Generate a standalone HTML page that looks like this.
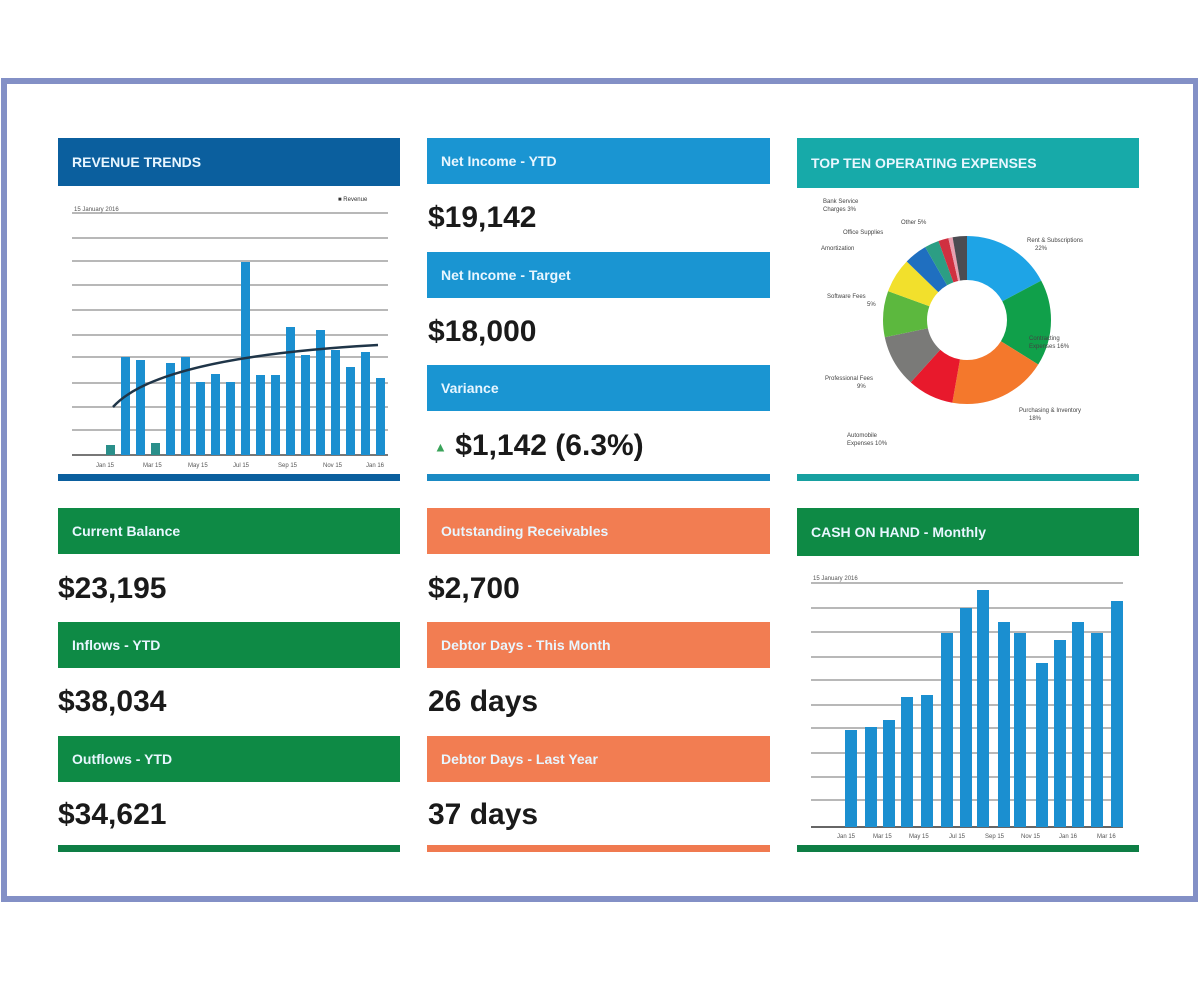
<!DOCTYPE html>
<html><head><meta charset="utf-8"><style>
*{margin:0;padding:0;box-sizing:border-box}
body{width:1200px;height:981px;background:#fff;position:relative;overflow:hidden;font-family:"Liberation Sans",sans-serif}
.frame{position:absolute;left:1px;top:78px;width:1197px;height:824px;border:6px solid #8390c6;border-right-width:5px}
.h{position:absolute;height:46px;color:#e8f6ff;font-weight:bold;font-size:14px;line-height:46px;padding-left:14px}
.v{position:absolute;font-weight:bold;font-size:30px;color:#1a1a1a}
.bar{position:absolute;height:7px}
</style></head><body>
<div class="frame"></div>

<div class="h" style="left:58px;top:138px;width:342px;height:48px;background:#0b5f9e;line-height:48px">REVENUE TRENDS</div>
<svg style="position:absolute;left:58px;top:195px" width="342" height="290">
<g stroke="#b8b8b8" stroke-width="2">
<line x1="14" x2="330" y1="18" y2="18"/><line x1="14" x2="330" y1="43" y2="43"/><line x1="14" x2="330" y1="66" y2="66"/><line x1="14" x2="330" y1="90" y2="90"/><line x1="14" x2="330" y1="115" y2="115"/><line x1="14" x2="330" y1="140" y2="140"/><line x1="14" x2="330" y1="162" y2="162"/><line x1="14" x2="330" y1="188" y2="188"/><line x1="14" x2="330" y1="212" y2="212"/><line x1="14" x2="330" y1="235" y2="235"/><line x1="14" x2="330" y1="260" y2="260" stroke="#777"/>
</g>
<text x="16" y="16" font-size="6" fill="#555">15 January 2016</text>
<text x="280" y="6" font-size="6" fill="#333">■ Revenue</text>
<g fill="#1b8fd0">
<rect x="48" y="250" width="9" height="10" fill="#2a8f8a"/>
<rect x="63" y="162" width="9" height="98"/>
<rect x="78" y="165" width="9" height="95"/>
<rect x="93" y="248" width="9" height="12" fill="#2a8f8a"/>
<rect x="108" y="168" width="9" height="92"/>
<rect x="123" y="162" width="9" height="98"/>
<rect x="138" y="187" width="9" height="73"/>
<rect x="153" y="179" width="9" height="81"/>
<rect x="168" y="187" width="9" height="73"/>
<rect x="183" y="67" width="9" height="193"/>
<rect x="198" y="180" width="9" height="80"/>
<rect x="213" y="180" width="9" height="80"/>
<rect x="228" y="132" width="9" height="128"/>
<rect x="243" y="160" width="9" height="100"/>
<rect x="258" y="135" width="9" height="125"/>
<rect x="273" y="155" width="9" height="105"/>
<rect x="288" y="172" width="9" height="88"/>
<rect x="303" y="157" width="9" height="103"/>
<rect x="318" y="183" width="9" height="77"/>
</g>
<path d="M55 212 Q100 162 320 150" fill="none" stroke="#1f3548" stroke-width="2.5"/>
<g font-size="6" fill="#555"><text x="38" y="272">Jan 15</text><text x="85" y="272">Mar 15</text><text x="130" y="272">May 15</text><text x="175" y="272">Jul 15</text><text x="220" y="272">Sep 15</text><text x="265" y="272">Nov 15</text><text x="308" y="272">Jan 16</text></g>
</svg>
<div class="bar" style="left:58px;top:474px;width:342px;background:#0b5f9e"></div>

<div class="h" style="left:427px;top:138px;width:343px;background:#1a95d2">Net Income - YTD</div>
<div class="v" style="left:428px;top:201px">$19,142</div>
<div class="h" style="left:427px;top:252px;width:343px;background:#1a95d2">Net Income - Target</div>
<div class="v" style="left:428px;top:315px">$18,000</div>
<div class="h" style="left:427px;top:365px;width:343px;background:#1a95d2">Variance</div>
<div class="v" style="left:434px;top:429px"><span style="color:#3aa35a;font-size:13px;vertical-align:middle">▲</span> $1,142 (6.3%)</div>
<div class="bar" style="left:427px;top:474px;width:343px;background:#1a8ac4"></div>

<div class="h" style="left:797px;top:138px;width:342px;height:50px;line-height:50px;background:#17aaa9">TOP TEN OPERATING EXPENSES</div>
<svg style="position:absolute;left:797px;top:190px" width="342" height="280">
<g transform="translate(170,130) rotate(-90)" fill="none" stroke-width="44">
<circle r="62" stroke="#1ea4e6" stroke-dasharray="67.1 400" stroke-dashoffset="0"/>
<circle r="62" stroke="#10a04a" stroke-dasharray="64.9 400" stroke-dashoffset="-67.1"/>
<circle r="62" stroke="#f4782c" stroke-dasharray="73.6 400" stroke-dashoffset="-132"/>
<circle r="62" stroke="#e8192c" stroke-dasharray="34.6 400" stroke-dashoffset="-205.6"/>
<circle r="62" stroke="#7a7a78" stroke-dasharray="39 400" stroke-dashoffset="-240.2"/>
<circle r="62" stroke="#5cb83e" stroke-dasharray="34.6 400" stroke-dashoffset="-279.2"/>
<circle r="62" stroke="#f2e02c" stroke-dasharray="26 400" stroke-dashoffset="-313.8"/>
<circle r="62" stroke="#1f6fc0" stroke-dasharray="17.3 400" stroke-dashoffset="-339.8"/>
<circle r="62" stroke="#2c9e84" stroke-dasharray="10.8 400" stroke-dashoffset="-357.1"/>
<circle r="62" stroke="#d03040" stroke-dasharray="7.6 400" stroke-dashoffset="-367.9"/>
<circle r="62" stroke="#e8a0b0" stroke-dasharray="3.2 400" stroke-dashoffset="-375.5"/>
<circle r="62" stroke="#4c4c52" stroke-dasharray="10.8 400" stroke-dashoffset="-378.7"/>
</g>
<g font-size="6" fill="#444">
<text x="230" y="52">Rent &amp; Subscriptions</text><text x="238" y="60">22%</text>
<text x="232" y="150">Contracting</text><text x="232" y="158">Expenses 16%</text>
<text x="222" y="222">Purchasing &amp; Inventory</text><text x="232" y="230">18%</text>
<text x="28" y="190">Professional Fees</text><text x="60" y="198">9%</text>
<text x="50" y="247">Automobile</text><text x="50" y="255">Expenses 10%</text>
<text x="30" y="108">Software Fees</text><text x="70" y="116">5%</text>
<text x="26" y="13">Bank Service</text><text x="26" y="21">Charges 3%</text>
<text x="104" y="34">Other 5%</text>
<text x="46" y="44">Office Supplies</text><text x="24" y="60">Amortization</text>
</g>
</svg>
<div class="bar" style="left:797px;top:474px;width:342px;background:#17a0a0"></div>

<div class="h" style="left:58px;top:508px;width:342px;background:#0e8a45">Current Balance</div>
<div class="v" style="left:58px;top:572px">$23,195</div>
<div class="h" style="left:58px;top:622px;width:342px;background:#0e8a45">Inflows - YTD</div>
<div class="v" style="left:58px;top:685px">$38,034</div>
<div class="h" style="left:58px;top:736px;width:342px;background:#0e8a45">Outflows - YTD</div>
<div class="v" style="left:58px;top:798px">$34,621</div>
<div class="bar" style="left:58px;top:845px;width:342px;background:#0e7e45"></div>

<div class="h" style="left:427px;top:508px;width:343px;background:#f27d52">Outstanding Receivables</div>
<div class="v" style="left:428px;top:572px">$2,700</div>
<div class="h" style="left:427px;top:622px;width:343px;background:#f27d52">Debtor Days - This Month</div>
<div class="v" style="left:428px;top:685px">26 days</div>
<div class="h" style="left:427px;top:736px;width:343px;background:#f27d52">Debtor Days - Last Year</div>
<div class="v" style="left:428px;top:798px">37 days</div>
<div class="bar" style="left:427px;top:845px;width:343px;background:#f07a50"></div>

<div class="h" style="left:797px;top:508px;width:342px;height:48px;line-height:48px;background:#0e8a45">CASH ON HAND - Monthly</div>
<svg style="position:absolute;left:797px;top:570px" width="342" height="275">
<g stroke="#b8b8b8" stroke-width="2">
<line x1="14" x2="326" y1="13" y2="13"/><line x1="14" x2="326" y1="38" y2="38"/><line x1="14" x2="326" y1="62" y2="62"/><line x1="14" x2="326" y1="87" y2="87"/><line x1="14" x2="326" y1="110" y2="110"/><line x1="14" x2="326" y1="135" y2="135"/><line x1="14" x2="326" y1="158" y2="158"/><line x1="14" x2="326" y1="183" y2="183"/><line x1="14" x2="326" y1="207" y2="207"/><line x1="14" x2="326" y1="230" y2="230"/><line x1="14" x2="326" y1="257" y2="257" stroke="#666"/>
</g>
<text x="16" y="10" font-size="6" fill="#555">15 January 2016</text>
<g fill="#1b8fd0">
<rect x="48" y="160" width="12" height="97"/>
<rect x="68" y="157" width="12" height="100"/>
<rect x="86" y="150" width="12" height="107"/>
<rect x="104" y="127" width="12" height="130"/>
<rect x="124" y="125" width="12" height="132"/>
<rect x="144" y="63" width="12" height="194"/>
<rect x="163" y="38" width="12" height="219"/>
<rect x="180" y="20" width="12" height="237"/>
<rect x="201" y="52" width="12" height="205"/>
<rect x="217" y="63" width="12" height="194"/>
<rect x="239" y="93" width="12" height="164"/>
<rect x="257" y="70" width="12" height="187"/>
<rect x="275" y="52" width="12" height="205"/>
<rect x="294" y="63" width="12" height="194"/>
<rect x="314" y="31" width="12" height="226"/>
</g>
<g font-size="6" fill="#555"><text x="40" y="268">Jan 15</text><text x="76" y="268">Mar 15</text><text x="112" y="268">May 15</text><text x="152" y="268">Jul 15</text><text x="188" y="268">Sep 15</text><text x="224" y="268">Nov 15</text><text x="262" y="268">Jan 16</text><text x="300" y="268">Mar 16</text></g>
</svg>
<div class="bar" style="left:797px;top:845px;width:342px;background:#0e7e45"></div>
</body></html>
